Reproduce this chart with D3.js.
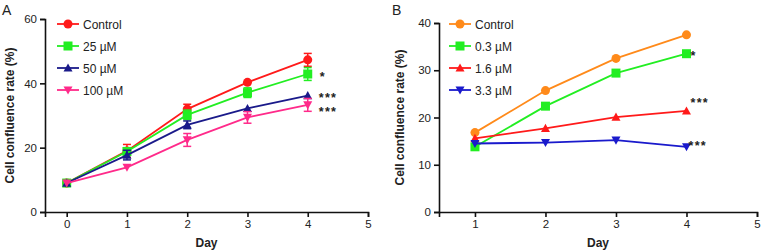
<!DOCTYPE html>
<html><head><meta charset="utf-8">
<script src="https://cdn.jsdelivr.net/npm/d3@7"></script>
<style>body{margin:0;background:#fff}svg{display:block;font-family:"Liberation Sans",Arial,sans-serif}</style>
</head><body>
<script>
// Panel A data
const daysA = [0, 1, 2, 3, 4];
const namesA = ["Control", "25 µM", "50 µM", "100 µM"];
const controlA = [9.0, 19.0, 32.0, 40.3, 47.3];
const controlAErr = [0.5, 2.0, 1.5, 0.6, 2.0];
const uM25 = [9.0, 18.8, 30.2, 37.1, 42.9];
const uM25Err = [0.5, 1.2, 1.5, 1.5, 2.0];
const uM50 = [9.0, 17.7, 27.1, 32.2, 36.2];
const uM50Err = [0.5, 1.5, 1.2, 0.5, 0.6];
const uM100 = [9.0, 13.9, 22.4, 29.4, 33.3];
const uM100Err = [0.5, 0.7, 2.0, 1.8, 2.0];
const sigA = ["", "*", "***", "***"];
const xTicksA = [0, 1, 2, 3, 4, 5];
const yTicksA = [0, 20, 40, 60];

// Panel B data
const daysB = [1, 2, 3, 4];
const namesB = ["Control", "0.3 µM", "1.6 µM", "3.3 µM"];
const controlB = [16.8, 25.7, 32.5, 37.5];
const uM03 = [13.8, 22.4, 29.4, 33.5];
const uM16 = [15.6, 17.7, 20.1, 21.4];
const uM33 = [14.5, 14.7, 15.2, 13.8];
const sigB = ["", "*", "***", "***"];
const xTicksB = [1, 2, 3, 4, 5];
const yTicksB = [0, 10, 20, 30, 40];

const W = 762, H = 251;
const svg = d3.select("body").append("svg").attr("width", W).attr("height", H);

function panel(o) {
  const g = svg.append("g");
  const x = d3.scaleLinear().domain(o.xDom).range([o.left, o.right]);
  const y = d3.scaleLinear().domain(o.yDom).range([o.bottom, o.top]);
  const xa = g.append("g").attr("transform", `translate(0,${o.bottom})`)
    .call(d3.axisBottom(x).tickValues(o.xTicks).tickSize(5).tickPadding(3).tickFormat(d3.format("d")));
  const ya = g.append("g").attr("transform", `translate(${o.left},0)`)
    .call(d3.axisLeft(y).tickValues(o.yTicks).tickSize(5).tickPadding(3).tickFormat(d3.format("d")));
  [xa, ya].forEach(a => {
    a.select(".domain").attr("stroke", "#111").attr("stroke-width", 1.6);
    a.selectAll(".tick line").attr("stroke", "#111").attr("stroke-width", 1.6);
    a.selectAll("text").attr("font-size", 11.5).attr("fill", "#222").attr("font-family", "Liberation Sans, Arial, sans-serif");
  });
  g.append("text").attr("x", o.titleX).attr("y", 15).attr("font-size", 14).attr("fill", "#222").text(o.title);
  g.append("text").attr("transform", `translate(${o.yLabX},${(o.top + o.bottom) / 2}) rotate(-90)`)
    .attr("text-anchor", "middle").attr("font-size", 12).attr("font-weight", "bold").attr("fill", "#222")
    .text("Cell confluence rate (%)");
  g.append("text").attr("x", (x(o.xDom[0]) + x(o.xDom[1])) / 2 + o.dayOff).attr("y", 247).attr("text-anchor", "middle")
    .attr("font-size", 12).attr("font-weight", "bold").attr("fill", "#222").text("Day");

  const line = d3.line().x((d, i) => x(o.days[i])).y(d => y(d));
  o.series.forEach((s, si) => {
    const sg = g.append("g");
    sg.append("path").datum(s.values).attr("d", line).attr("fill", "none").attr("stroke", s.color).attr("stroke-width", 1.8);
    if (s.err) {
      s.values.forEach((v, i) => {
        const e = s.err[i];
        if (y(v - e) - y(v + e) < 5) return;
        const cx = x(o.days[i]);
        sg.append("line").attr("x1", cx).attr("x2", cx).attr("y1", y(v - e)).attr("y2", y(v + e)).attr("stroke", s.color).attr("stroke-width", 1.5);
        [v - e, v + e].forEach(w => sg.append("line").attr("x1", cx - 4).attr("x2", cx + 4).attr("y1", y(w)).attr("y2", y(w)).attr("stroke", s.color).attr("stroke-width", 1.5));
      });
    }
    s.values.forEach((v, i) => marker(sg, s.shape, x(o.days[i]), y(v), s.color, s.size));
    const ly = o.legY + si * 22;
    g.append("line").attr("x1", o.legX).attr("x2", o.legX + 22).attr("y1", ly).attr("y2", ly).attr("stroke", s.color).attr("stroke-width", 1.8);
    marker(g, s.shape, o.legX + 11, ly, s.color, s.size);
    g.append("text").attr("x", o.legX + 26).attr("y", ly + 4.5).attr("font-size", 12).attr("fill", "#222").text(s.name);
    if (o.sig[si]) {
      const last = s.values.length - 1;
      g.append("text").attr("x", x(o.days[last]) + o.sigOff[si][0]).attr("y", y(s.values[last]) + o.sigOff[si][1])
        .attr("font-size", 12.5).attr("font-weight", "bold").attr("letter-spacing", 1.3).attr("fill", "#222").text(o.sig[si]);
    }
  });
}

function marker(g, shape, cx, cy, color, size) {
  const r = size / 2;
  if (shape === "circle") g.append("circle").attr("cx", cx).attr("cy", cy).attr("r", r).attr("fill", color);
  else if (shape === "square") g.append("rect").attr("x", cx - r).attr("y", cy - r).attr("width", size).attr("height", size).attr("fill", color);
  else if (shape === "up") g.append("path").attr("d", `M${cx},${cy - r}L${cx + r},${cy + r * 0.8}L${cx - r},${cy + r * 0.8}Z`).attr("fill", color);
  else g.append("path").attr("d", `M${cx},${cy + r}L${cx + r},${cy - r * 0.8}L${cx - r},${cy - r * 0.8}Z`).attr("fill", color);
}

panel({
  title: "A", titleX: 2, yLabX: 14, dayOff: 0,
  left: 45, right: 368, top: 19, bottom: 212,
  xDom: [-0.36, 5], yDom: [0, 60], xTicks: xTicksA, yTicks: yTicksA, days: daysA,
  legX: 57, legY: 24,
  sig: sigA, sigOff: [[0, 0], [12, 7.2], [11, 6.2], [11, 10.8]],
  series: [
    {name: namesA[0], values: controlA, err: controlAErr, color: "#ff1a1a", shape: "circle", size: 9},
    {name: namesA[1], values: uM25, err: uM25Err, color: "#22ee22", shape: "square", size: 9},
    {name: namesA[2], values: uM50, err: uM50Err, color: "#1a1a8a", shape: "up", size: 9},
    {name: namesA[3], values: uM100, err: uM100Err, color: "#ff2a8a", shape: "down", size: 9}
  ]
});

panel({
  title: "B", titleX: 392, yLabX: 404, dayOff: 0,
  left: 439, right: 757, top: 23, bottom: 212,
  xDom: [0.49, 5], yDom: [0, 40], xTicks: xTicksB, yTicks: yTicksB, days: daysB,
  legX: 449, legY: 24,
  sig: sigB, sigOff: [[0, 0], [4, 6.5], [4, -3.7], [2, 3.4]],
  series: [
    {name: namesB[0], values: controlB, color: "#ff8a1a", shape: "circle", size: 9},
    {name: namesB[1], values: uM03, color: "#22ee22", shape: "square", size: 9},
    {name: namesB[2], values: uM16, color: "#ff1a1a", shape: "up", size: 9},
    {name: namesB[3], values: uM33, color: "#1a1acc", shape: "down", size: 9}
  ]
});
</script>
</body></html>
